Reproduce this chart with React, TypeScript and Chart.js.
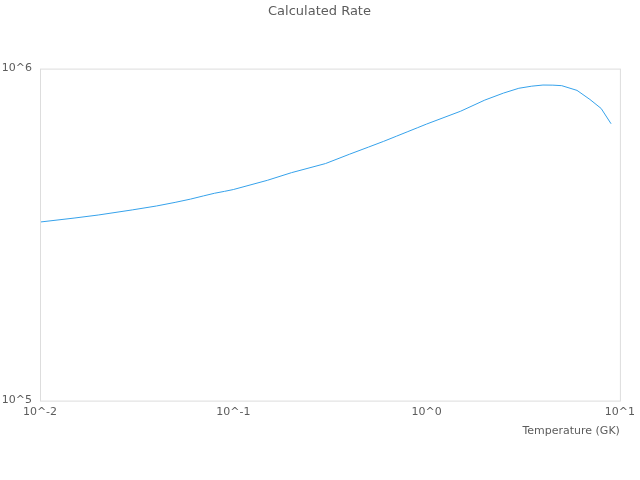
import { useEffect, useRef } from "react";
import { Chart, registerables, Plugin } from "chart.js";

Chart.register(...registerables);

// Temperature grid (GK) and the calculated rate
const temperatures = [
  0.01, 0.015, 0.02, 0.03, 0.04, 0.05, 0.06, 0.07, 0.08, 0.09,
  0.1, 0.15, 0.2, 0.3, 0.4, 0.5, 0.6, 0.7, 0.8, 0.9,
  1, 1.5, 2, 2.5, 3, 3.5, 4, 4.5, 5, 6, 7, 8, 9,
];
const rates = [
  345000, 354600, 362200, 375300, 385600, 395400, 404400, 413500, 421300, 426800,
  432200, 460800, 485900, 517600, 552500, 580100, 603900, 626100, 646000, 664000,
  680700, 744100, 803800, 843900, 872500, 885300, 892200, 891600, 888400, 859800,
  807200, 758300, 682200,
];
const xTicks = [0.01, 0.1, 1, 10];
const yTicks = [1e5, 1e6];

const powLabel = (v: number | string) => "10^" + Math.round(Math.log10(Number(v)));

// draws the full box round the plot area
const frame: Plugin = {
  id: "frame",
  afterDraw(chart) {
    const { ctx, chartArea: a } = chart;
    ctx.save();
    ctx.strokeStyle = "#dddddd";
    ctx.lineWidth = 1;
    ctx.strokeRect(a.left + 0.5, a.top + 0.5, a.right - a.left, a.bottom - a.top);
    ctx.restore();
  },
};

export default function App() {
  const chartRef = useRef<HTMLCanvasElement>(null);
  const chartInstance = useRef<Chart | null>(null);

  useEffect(() => {
    document.body.style.margin = "0";
    if (!chartRef.current) return;
    if (chartInstance.current) chartInstance.current.destroy();

    Chart.defaults.font.family = "'DejaVu Sans', sans-serif";
    Chart.defaults.color = "#5c5c5c";

    chartInstance.current = new Chart(chartRef.current, {
      type: "line",
      data: {
        datasets: [
          {
            label: "Rate",
            data: temperatures.map((t, i) => ({ x: t, y: rates[i] })),
            borderColor: "#36A2EB",
            borderWidth: 1,
            pointRadius: 0,
            fill: false,
            tension: 0,
          },
        ],
      },
      options: {
        animation: false,
        responsive: true,
        maintainAspectRatio: false,
        layout: { padding: { left: 2, right: 3, bottom: 42 } },
        plugins: {
          legend: { display: false },
          tooltip: { enabled: false },
          title: {
            display: true,
            text: "Calculated Rate",
            font: { size: 13, weight: "normal" },
            padding: { top: 4, bottom: 49 },
          },
        },
        scales: {
          x: {
            type: "logarithmic",
            min: 0.01,
            max: 10,
            grid: { display: false, drawTicks: false },
            border: { display: false },
            afterBuildTicks: (axis) => {
              axis.ticks = xTicks.map((value) => ({ value }));
            },
            ticks: {
              font: { size: 11 },
              padding: 5,
              maxRotation: 0,
              callback: (v) => powLabel(v),
            },
            title: {
              display: true,
              text: "Temperature (GK)",
              align: "end",
              font: { size: 11 },
              padding: { top: 1, bottom: 0 },
            },
          },
          y: {
            type: "logarithmic",
            min: 1e5,
            max: 1e6,
            grid: { display: false, drawTicks: false },
            border: { display: false },
            afterBuildTicks: (axis) => {
              axis.ticks = yTicks.map((value) => ({ value }));
            },
            afterFit: (axis) => {
              axis.width = 38;
            },
            ticks: {
              font: { size: 11 },
              padding: 8,
              callback: (v) => powLabel(v),
            },
          },
        },
      },
      plugins: [frame],
    });

    return () => {
      if (chartInstance.current) {
        chartInstance.current.destroy();
        chartInstance.current = null;
      }
    };
  }, []);

  return (
    <div style={{ width: 640, height: 480, position: "relative" }}>
      <canvas ref={chartRef}></canvas>
    </div>
  );
}
